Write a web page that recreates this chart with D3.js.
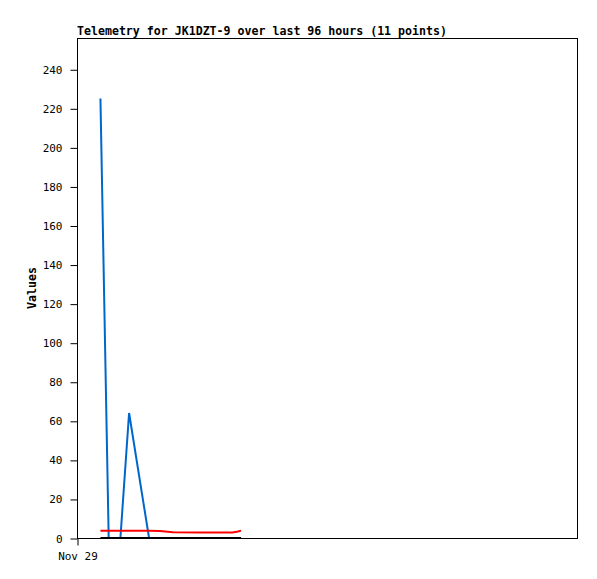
<!DOCTYPE html>
<html>
<head>
<meta charset="utf-8">
<script src="https://cdn.jsdelivr.net/npm/d3@7"></script>
<style>
  body { margin: 0; background: #fff; }
  text { font-family: "DejaVu Sans Mono", "Liberation Mono", monospace; }
</style>
</head>
<body>
<svg id="chart" width="597" height="579"></svg>
<script>
// telemetry samples (11 points)
const times = [
  "2023-11-29T04:30Z", "2023-11-29T06:05Z", "2023-11-29T08:20Z", "2023-11-29T10:00Z",
  "2023-11-29T13:50Z", "2023-11-29T15:55Z", "2023-11-29T18:25Z", "2023-11-29T23:35Z",
  "2023-11-30T05:50Z", "2023-11-30T06:55Z", "2023-11-30T07:30Z"
]
const blueValues = [225, 0, 0, 64, 0, 0, 0, 0, 0, 0, 0]
const redValues = [3.7, 3.7, 3.7, 3.7, 3.7, 3.6, 2.9, 2.8, 2.8, 3.3, 3.8]
const blackValues = [0, 0, 0, 0, 0, 0, 0, 0, 0, 0, 0]
const yTicks = [0, 20, 40, 60, 80, 100, 120, 140, 160, 180, 200, 220, 240]
const xTickLabels = ["Nov 29"]

const width = 597, height = 579
const marginLeft = 77, marginTop = 38, marginRight = 20, marginBottom = 41

const svg = d3.select('#chart')

const xScale = d3.scaleUtc([new Date("2023-11-29T00:00Z"), new Date("2023-12-03T00:00Z")],
  [marginLeft, width - marginRight])
const yScale = d3.scaleLinear([0, 256], [height - marginBottom, marginTop])

// frame
svg.append('rect')
  .attr('x', marginLeft + 0.5)
  .attr('y', marginTop + 0.5)
  .attr('width', width - marginRight - marginLeft)
  .attr('height', height - marginBottom - marginTop)
  .attr('fill', 'none')
  .attr('stroke', 'black')

const yAxis = d3.axisLeft(yScale).tickValues(yTicks).tickSize(7).tickPadding(8)
svg.append('g')
  .attr('transform', `translate(${marginLeft + 0.5}, 0.5)`)
  .call(yAxis)
  .call(g => g.select('.domain').remove())
  .call(g => g.selectAll('text').attr('font-size', 11).attr('font-family', '"DejaVu Sans Mono", monospace'))

const xAxis = d3.axisBottom(xScale)
  .tickValues([new Date("2023-11-29T00:00Z")])
  .tickFormat((d, i) => xTickLabels[i])
  .tickSize(7).tickPadding(7)
svg.append('g')
  .attr('transform', `translate(0.5, ${height - marginBottom + 0.5})`)
  .call(xAxis)
  .call(g => g.select('.domain').remove())
  .call(g => g.selectAll('text').attr('font-size', 11).attr('font-family', '"DejaVu Sans Mono", monospace'))

const line = d3.line()
  .x((d, i) => xScale(new Date(times[i])))
  .y(d => yScale(d))

const series = [
  {values: blueValues, color: '#0066cc'},
  {values: redValues, color: '#ff0000'},
  {values: blackValues, color: '#000000'}
]
series.forEach(s => {
  svg.append('path')
    .attr('d', line(s.values))
    .attr('fill', 'none')
    .attr('stroke', s.color)
    .attr('stroke-width', 2)
})

// title and axis label
svg.append('text')
  .attr('x', marginLeft)
  .attr('y', 35)
  .attr('font-size', 11.6)
  .attr('font-weight', 'bold')
  .text('Telemetry for JK1DZT-9 over last 96 hours (11 points)')

svg.append('text')
  .attr('transform', `translate(36, ${(marginTop + height - marginBottom) / 2}) rotate(-90)`)
  .attr('text-anchor', 'middle')
  .attr('font-size', 11.6)
  .attr('font-weight', 'bold')
  .text('Values')
</script>
</body>
</html>
